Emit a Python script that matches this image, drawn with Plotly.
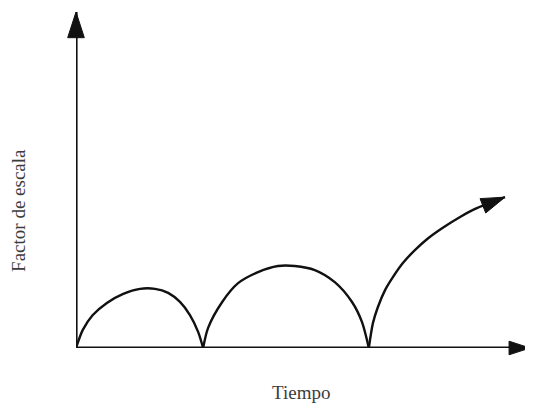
import plotly.graph_objects as go

# ---- data (time / scale factor in arbitrary units) ----
axis_t = [0, 10]          # extent of the time axis
axis_a = [0, 10]          # extent of the scale-factor axis

arch1_t = [0.00, 0.15, 0.37, 0.68, 1.04, 1.41, 1.74, 2.03, 2.29, 2.51, 2.69, 2.80]
arch1_a = [0.00, 0.54, 0.98, 1.34, 1.61, 1.76, 1.76, 1.64, 1.37, 0.98, 0.48, 0.00]

arch2_t = [2.80, 2.91, 3.22, 3.57, 4.01, 4.45, 4.82, 5.26, 5.70, 6.08, 6.30, 6.45]
arch2_a = [0.00, 0.60, 1.37, 1.93, 2.26, 2.44, 2.44, 2.32, 1.96, 1.37, 0.77, 0.00]

rise_t = [6.45, 6.54, 6.65, 6.81, 6.98, 7.20, 7.47, 7.75, 8.08, 8.46, 8.79, 9.45]
rise_a = [0.00, 0.74, 1.22, 1.73, 2.11, 2.53, 2.92, 3.26, 3.58, 3.90, 4.14, 4.49]

x_label = "Tiempo"
y_label = "Factor de escala"

INK = "#111111"
TEXT = "#3c3c3c"
FONT = "Liberation Serif, Times New Roman, serif"
SMOOTH = 0.8

fig = go.Figure()


def arrow_line(xs, ys, width, head):
    sizes = [0] * (len(xs) - 1) + [head]
    return go.Scatter(
        x=xs, y=ys, mode="lines+markers",
        line=dict(color=INK, width=width, shape="spline", smoothing=SMOOTH),
        marker=dict(symbol="arrow", size=sizes, angleref="previous",
                    color=INK, opacity=1, line=dict(color=INK, width=1)),
        hoverinfo="skip", showlegend=False, cliponaxis=False,
    )


# axes drawn as arrows
fig.add_trace(arrow_line([axis_t[0], axis_t[0]], [axis_a[0], axis_a[1]], 3.2, 27))
fig.add_trace(arrow_line([axis_t[0], axis_t[1]], [axis_a[0], axis_a[0]], 3.2, 22))

# the two arches
for xs, ys in ((arch1_t, arch1_a), (arch2_t, arch2_a)):
    fig.add_trace(go.Scatter(
        x=xs, y=ys, mode="lines",
        line=dict(color=INK, width=2.4, shape="spline", smoothing=SMOOTH),
        hoverinfo="skip", showlegend=False, cliponaxis=False,
    ))

# the final rising branch with its arrow
fig.add_trace(arrow_line(rise_t, rise_a, 2.4, 25))

fig.add_annotation(text=x_label, xref="paper", yref="paper",
                   x=0.496, y=-0.131, showarrow=False,
                   xanchor="center", yanchor="middle",
                   font=dict(family=FONT, size=19, color=TEXT))
fig.add_annotation(text=y_label, xref="paper", yref="paper",
                   x=-0.1256, y=0.411, showarrow=False, textangle=-90,
                   xanchor="center", yanchor="middle",
                   font=dict(family=FONT, size=19, color=TEXT))

hidden = dict(visible=True, showgrid=False, zeroline=False, showline=False,
              showticklabels=False, ticks="", fixedrange=True)
fig.update_xaxes(range=axis_t, **hidden)
fig.update_yaxes(range=axis_a, **hidden)

# the page body adds an 8px offset, so the figure is sized/margined for it
fig.update_layout(
    width=525, height=400,
    margin=dict(l=68, r=3, t=4, b=60),
    paper_bgcolor="white", plot_bgcolor="white",
    showlegend=False,
)

fig.write_html("out.html")
